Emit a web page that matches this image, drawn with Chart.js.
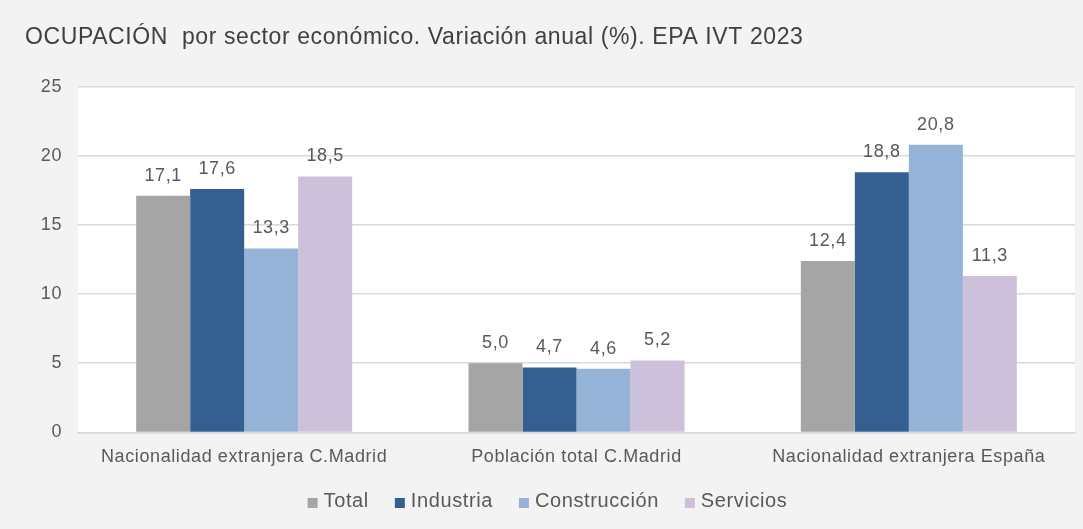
<!DOCTYPE html>
<html>
<head>
<meta charset="utf-8">
<script src="https://cdn.jsdelivr.net/npm/chart.js@4"></script>
<style>
  html, body { margin: 0; padding: 0; background: #f3f3f3; }
  #wrap { width: 1083px; height: 529px; }
</style>
</head>
<body>
<div id="wrap"><canvas id="chart"></canvas></div>
<script>
const categories = ["Nacionalidad extranjera C.Madrid", "Población total C.Madrid", "Nacionalidad extranjera España"];
const total = [17.1, 5.0, 12.4];
const industria = [17.6, 4.7, 18.8];
const construccion = [13.3, 4.6, 20.8];
const servicios = [18.5, 5.2, 11.3];
const yTicks = [0, 5, 10, 15, 20, 25];

const textColor = "#595959";
const fontFamily = "'Liberation Sans', Arial, sans-serif";
const spacing = "0.6px";

// slightly wider text, like the original rendering
const letterSpacing = {
  id: "letterSpacing",
  beforeUpdate(chart) { chart.ctx.letterSpacing = spacing; },
  beforeDraw(chart) { chart.ctx.letterSpacing = spacing; }
};

// grey card with a white plot area
const plotBg = {
  id: "plotBg",
  beforeDraw(chart) {
    const { ctx, chartArea } = chart;
    ctx.save();
    ctx.fillStyle = "#f3f3f3";
    ctx.fillRect(0, 0, chart.width, chart.height);
    ctx.fillStyle = "#ffffff";
    ctx.fillRect(chartArea.left, chartArea.top, chartArea.right - chartArea.left, chartArea.bottom - chartArea.top);
    ctx.restore();
  }
};

// value labels above bars, comma decimal
const valueLabels = {
  id: "valueLabels",
  afterDatasetsDraw(chart) {
    const ctx = chart.ctx;
    ctx.save();
    ctx.fillStyle = textColor;
    ctx.font = "18px " + fontFamily;
    ctx.textAlign = "center";
    ctx.textBaseline = "bottom";
    chart.data.datasets.forEach((ds, i) => {
      chart.getDatasetMeta(i).data.forEach((bar, j) => {
        const txt = ds.data[j].toFixed(1).replace(".", ",");
        ctx.fillText(txt, bar.x, bar.y - 11);
      });
    });
    ctx.restore();
  }
};

// legend drawn by hand so its spot under the axis is easy to place
const bottomLegend = {
  id: "bottomLegend",
  afterDraw(chart) {
    const ctx = chart.ctx;
    const box = 10, gapText = 6, gapItem = 26;
    ctx.save();
    ctx.font = "20px " + fontFamily;
    ctx.textBaseline = "middle";
    ctx.textAlign = "left";
    const items = chart.data.datasets.map(ds => ({ label: ds.label, color: ds.backgroundColor, w: ctx.measureText(ds.label).width }));
    const totalW = items.reduce((s, it) => s + box + gapText + it.w, 0) + gapItem * (items.length - 1);
    let x = chart.width / 2 + 6 - totalW / 2;
    const y = chart.height - 28;
    items.forEach(it => {
      ctx.fillStyle = it.color;
      ctx.fillRect(x, y - 3, box, box);
      ctx.fillStyle = textColor;
      ctx.fillText(it.label, x + box + gapText, y);
      x += box + gapText + it.w + gapItem;
    });
    ctx.restore();
  }
};

new Chart(document.getElementById("chart"), {
  type: "bar",
  data: {
    labels: categories,
    datasets: [
      { label: "Total", data: total, backgroundColor: "#a5a5a5" },
      { label: "Industria", data: industria, backgroundColor: "#355f91" },
      { label: "Construcción", data: construccion, backgroundColor: "#95b3d7" },
      { label: "Servicios", data: servicios, backgroundColor: "#ccc0da" },
    ],
  },
  options: {
    responsive: true,
    maintainAspectRatio: false,
    animation: false,
    datasets: { bar: { categoryPercentage: 0.65, barPercentage: 1.0 } },
    layout: { padding: { left: 25, right: 8, top: 0, bottom: 47 } },
    plugins: {
      title: {
        display: true,
        text: "OCUPACIÓN  por sector económico. Variación anual (%). EPA IVT 2023",
        align: "start",
        color: "#404040",
        font: { family: fontFamily, size: 23, weight: "normal" },
        padding: { top: 24, bottom: 35 },
      },
      legend: { display: false },
      tooltip: { enabled: false },
    },
    scales: {
      x: {
        grid: { display: false, drawTicks: false },
        border: { color: "#d9d9d9", width: 1.5 },
        ticks: { color: textColor, font: { family: fontFamily, size: 18 }, padding: 14 },
      },
      y: {
        min: 0,
        max: 25,
        afterFit(scale) { scale.width = 53; },
        afterBuildTicks(scale) { scale.ticks = yTicks.map(v => ({ value: v })); },
        grid: { color: "#d9d9d9", lineWidth: 1.5, drawTicks: false },
        border: { display: false },
        ticks: { color: textColor, font: { family: fontFamily, size: 18 }, padding: 16 },
      },
    },
  },
  plugins: [letterSpacing, plotBg, valueLabels, bottomLegend],
});
</script>
</body>
</html>
